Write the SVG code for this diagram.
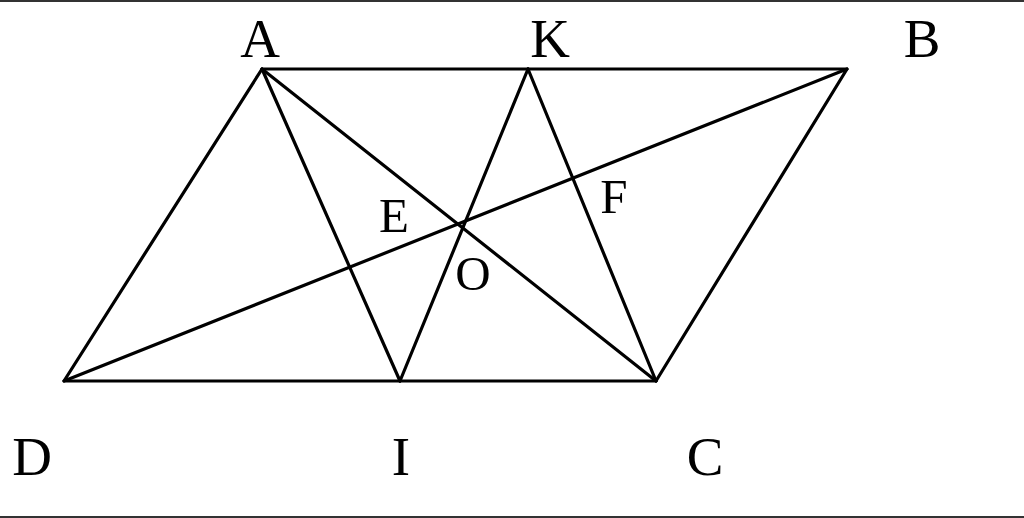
<svg xmlns="http://www.w3.org/2000/svg" width="1024" height="518" viewBox="0 0 1024 518">
<style>
.l{stroke:#000;stroke-width:3.2;fill:none;stroke-linecap:round;stroke-linejoin:round}
.t{font-family:"Liberation Serif","Times New Roman",serif;fill:#000}
.big{font-size:55px}
.sm{font-size:49px}
.frame{stroke:#333;stroke-width:2}
</style>
<rect x="0" y="0" width="1024" height="518" fill="#fff"/>
<g id="frame" class="frame">
<line x1="0" y1="1" x2="1024" y2="1"/>
<line x1="0" y1="517" x2="1024" y2="517"/>
</g>
<g id="connectors" class="l">
<polygon points="262,69 847,69 656,381 64,381"/>
<line x1="262" y1="69" x2="656" y2="381"/>
<line x1="847" y1="69" x2="64" y2="381"/>
<line x1="262" y1="69" x2="400" y2="381"/>
<line x1="528" y1="69" x2="400" y2="381"/>
<line x1="528" y1="69" x2="656" y2="381"/>
</g>
<g id="A"><text class="t big" x="260" y="57" text-anchor="middle">A</text></g>
<g id="K"><text class="t big" x="550" y="57" text-anchor="middle">K</text></g>
<g id="B"><text class="t big" x="922" y="57" text-anchor="middle">B</text></g>
<g id="D"><text class="t big" x="32" y="475" text-anchor="middle">D</text></g>
<g id="I"><text class="t big" x="401" y="475" text-anchor="middle">I</text></g>
<g id="C"><text class="t big" x="705" y="475" text-anchor="middle">C</text></g>
<g id="E"><text class="t sm" x="394" y="232" text-anchor="middle">E</text></g>
<g id="F"><text class="t sm" x="614" y="213" text-anchor="middle">F</text></g>
<g id="O"><text class="t sm" x="473" y="290" text-anchor="middle">O</text></g>
</svg>
